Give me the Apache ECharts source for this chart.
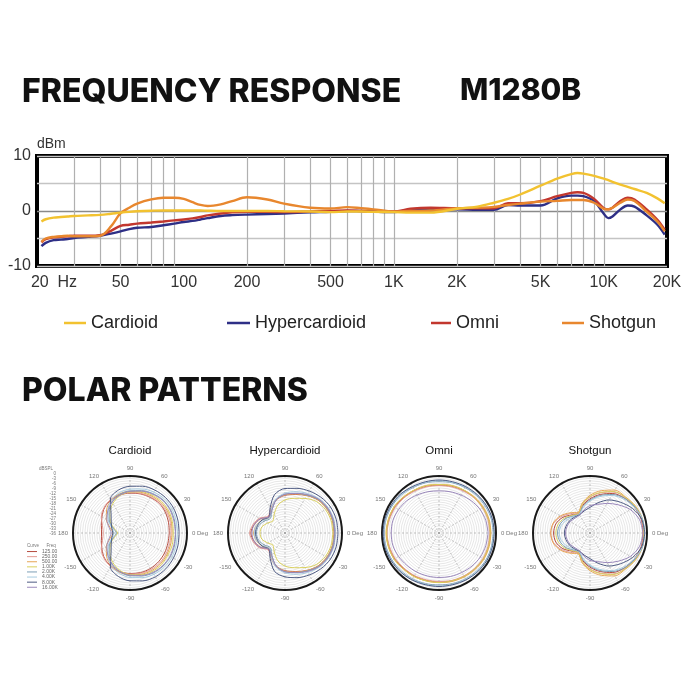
<!DOCTYPE html>
<html><head><meta charset="utf-8">
<script src="https://cdn.jsdelivr.net/npm/echarts@6/dist/echarts.min.js"></script>
<style>html,body{margin:0;padding:0;background:#fff}#c{width:700px;height:700px}</style>
</head><body><div id="c"></div>
<script>
// ---------- Frequency response data ----------
const freqs = [21,22,24,26,28,30,35,40,45,50,55,60,70,80,90,100,110,120,130,150,170,200,250,300,400,500,600,700,800,1000,1200,1500,2000,2500,3000,3500,4000,5000,6000,7000,7500,8000,9000,10000,10500,11000,12000,13000,14000,16000,18000,19500];
const cardioidFR = [-1.9,-1.5,-1.2,-1.1,-1.0,-0.9,-0.8,-0.7,-0.5,-0.3,-0.15,-0.05,0.05,0.1,0.1,0.1,0.1,0.1,0.05,0,0,0,0,-0.05,-0.1,-0.2,-0.1,-0.1,-0.15,-0.2,-0.3,-0.3,0.4,0.8,1.5,2.2,3.0,4.6,5.9,6.7,6.9,6.8,6.4,5.9,5.6,5.3,4.8,4.4,4.0,3.3,2.3,1.4];
const hyperFR = [-6.4,-5.8,-5.3,-5.2,-5.1,-4.9,-4.7,-4.5,-4.1,-3.7,-3.3,-3.05,-2.9,-2.6,-2.3,-2.0,-1.8,-1.55,-1.3,-0.9,-0.75,-0.65,-0.55,-0.45,-0.25,-0.15,0,0,-0.1,-0.2,0.2,0.3,0.3,0.2,0.2,1.1,1.0,1.0,2.3,2.8,2.8,2.7,1.8,-0.5,-1.3,-1.0,0.3,1.0,0.8,-0.8,-2.5,-4.3];
const omniFR = [-5.7,-5.1,-4.8,-4.7,-4.6,-4.5,-4.5,-4.4,-3.6,-2.7,-2.5,-2.3,-2.1,-1.9,-1.7,-1.55,-1.35,-1.1,-0.8,-0.45,-0.25,-0.15,-0.15,-0.2,-0.1,0,0.1,0,-0.1,-0.1,0.4,0.6,0.5,0.5,0.5,1.4,1.4,1.8,2.7,3.3,3.4,3.3,2.2,0.5,0.3,0.6,1.8,2.4,2.1,0.3,-1.6,-3.4];
const shotgunFR = [-5.6,-5.0,-4.7,-4.6,-4.5,-4.6,-4.6,-4.5,-2.8,-0.4,0.6,1.35,2.1,2.4,2.4,2.2,1.6,1.1,0.9,1.2,1.8,2.5,2.1,1.35,0.6,0.45,0.7,0.5,0.3,-0.1,0,0.1,0.5,0.6,0.75,1.1,1.35,1.7,1.85,2.0,2.0,2.0,1.5,0.4,0.3,0.6,1.5,2.1,1.8,-0.1,-1.9,-3.7];
const frNames = ['Cardioid','Hypercardioid','Omni','Shotgun'];
const frColors = ['#f2c230','#2e2f86','#c2372e','#e8872e'];
const xLabelFreqs = [20,50,100,200,500,1000,2000,5000,10000,20000];
const xLabelTexts = ['20  Hz','50','100','200','500','1K','2K','5K','10K','20K'];
const xGridFreqs = [30,40,50,60,70,80,90,200,300,400,500,600,700,800,900,1000,2000,3000,4000,5000,6000,7000,8000,9000,10000];
const yLabelValues = [10,0,-10];

// ---------- Polar pattern data (dBSPL, angles in degrees) ----------
const angles = [0,15,30,45,60,75,90,105,120,135,150,165,180,195,210,225,240,255,270,285,300,315,330,345,360];
const polarFreqs = ['125.00','250.00','500.00','1.00K','2.00K','4.00K','8.00K','16.00K'];
const polarColors = ['#b54a3e','#e39a92','#e6a556','#d9cf5c','#7d9fb6','#a6cbe0','#4d5a82','#9a88bb'];
const dbLabels = ['0','-3','-6','-9','-12','-15','-18','-21','-24','-27','-30','-33','-36'];

const cardioidPolar = [
 [-11.2,-10.8,-10.1,-9.7,-10.1,-10.4,-10.8,-11.2,-11.9,-13.3,-15.5,-17.3,-18.0,-17.3,-15.5,-13.3,-11.9,-10.8,-10.4,-10.1,-10.1,-10.4,-10.8,-11.2,-11.2],
 [-10.1,-9.7,-9.4,-9.4,-9.7,-10.1,-10.4,-10.8,-11.5,-13.0,-15.1,-18.0,-19.1,-18.0,-15.1,-13.0,-11.5,-10.4,-10.1,-9.7,-9.4,-9.4,-9.7,-10.1,-10.1],
 [-9.4,-9.0,-8.6,-8.6,-9.0,-9.4,-9.7,-10.4,-12.2,-15.1,-18.7,-23.0,-25.2,-23.0,-18.7,-15.1,-12.2,-10.4,-9.4,-9.0,-8.6,-8.6,-9.0,-9.4,-9.4],
 [-8.6,-8.3,-7.9,-7.9,-8.3,-9.0,-10.1,-11.5,-14.4,-18.0,-21.6,-25.9,-28.1,-25.9,-21.6,-18.0,-14.4,-11.5,-9.7,-8.6,-7.9,-7.9,-8.3,-8.3,-8.6],
 [-7.2,-6.8,-6.5,-6.5,-7.2,-8.3,-9.4,-10.8,-13.3,-17.3,-20.9,-25.2,-27.4,-25.2,-20.9,-17.3,-13.3,-10.8,-9.0,-7.9,-6.8,-6.5,-6.5,-6.8,-7.2],
 [-6.1,-5.8,-5.4,-5.4,-6.1,-7.2,-8.3,-9.7,-12.2,-16.2,-20.2,-24.1,-25.9,-24.1,-20.2,-16.2,-12.2,-9.7,-7.9,-6.8,-5.8,-5.4,-5.4,-5.8,-6.1],
 [-5.0,-4.7,-4.3,-4.3,-4.7,-5.4,-6.5,-7.9,-11.2,-19.1,-22.3,-24.1,-25.2,-24.1,-22.3,-19.1,-11.2,-7.6,-5.8,-4.7,-4.0,-4.0,-4.3,-4.7,-5.0],
 [-7.2,-7.2,-6.8,-6.8,-7.6,-8.6,-9.7,-11.2,-13.3,-16.2,-19.1,-22.3,-24.1,-22.3,-19.1,-16.2,-13.3,-10.8,-9.4,-8.3,-7.2,-6.8,-6.8,-7.2,-7.2]
];
const hyperPolar = [
 [-5.0,-5.0,-5.4,-6.5,-8.6,-10.8,-12.2,-14.4,-18.7,-21.6,-18.0,-15.8,-14.4,-15.8,-18.0,-21.6,-18.7,-14.4,-12.2,-10.8,-8.6,-6.5,-5.4,-5.0,-5.0],
 [-4.7,-4.7,-5.0,-6.1,-8.3,-10.4,-11.9,-14.0,-18.0,-20.9,-17.3,-15.1,-13.7,-15.1,-17.3,-20.9,-18.0,-14.0,-11.9,-10.4,-8.3,-6.1,-5.0,-4.7,-4.7],
 [-5.0,-5.0,-5.4,-6.5,-8.6,-10.4,-11.9,-14.4,-18.7,-22.3,-19.4,-17.3,-16.2,-17.3,-19.4,-22.3,-18.7,-14.4,-11.9,-10.4,-8.6,-6.5,-5.4,-5.0,-5.0],
 [-5.8,-5.8,-6.5,-7.9,-10.8,-13.3,-15.1,-18.0,-22.3,-25.2,-23.4,-20.9,-20.2,-20.9,-23.4,-25.2,-22.3,-18.0,-15.1,-13.3,-10.8,-7.9,-6.5,-5.8,-5.8],
 [-4.7,-4.7,-5.0,-6.1,-8.3,-10.1,-11.5,-14.4,-19.4,-23.0,-20.9,-18.7,-18.0,-18.7,-20.9,-23.0,-19.4,-14.4,-11.5,-10.1,-8.3,-6.1,-5.0,-4.7,-4.7],
 [-4.0,-4.0,-4.3,-5.4,-7.2,-9.0,-10.8,-13.7,-18.7,-22.3,-19.8,-17.3,-16.6,-17.3,-19.8,-22.3,-18.7,-13.7,-10.8,-9.0,-7.2,-5.4,-4.3,-4.0,-4.0],
 [-2.5,-2.5,-2.9,-4.0,-5.4,-6.8,-7.9,-10.8,-17.3,-21.6,-19.4,-18.0,-17.3,-18.0,-19.4,-21.6,-17.3,-10.8,-8.3,-6.8,-5.4,-4.0,-2.9,-2.5,-2.5],
 [-4.3,-4.3,-4.7,-5.8,-7.9,-10.1,-11.5,-14.4,-19.4,-21.6,-18.0,-15.8,-15.1,-15.8,-18.0,-21.6,-19.4,-14.4,-11.5,-10.1,-7.9,-5.8,-4.7,-4.3,-4.3]
];
const omniPolar = [
 [-3.6,-3.6,-4.0,-4.3,-5.0,-5.4,-5.8,-5.4,-5.0,-4.3,-3.6,-3.2,-2.9,-3.2,-3.6,-4.3,-4.7,-5.0,-5.0,-4.7,-4.3,-4.0,-3.6,-3.6,-3.6],
 [-4.0,-4.0,-4.3,-4.7,-5.4,-5.8,-6.1,-5.8,-5.4,-4.7,-4.0,-3.6,-3.2,-3.6,-4.0,-4.7,-5.0,-5.4,-5.4,-5.0,-4.7,-4.3,-4.0,-4.0,-4.0],
 [-3.2,-3.2,-3.6,-4.0,-4.7,-5.0,-5.4,-5.0,-4.7,-4.0,-3.2,-2.9,-2.5,-2.9,-3.2,-4.0,-4.3,-4.7,-4.7,-4.3,-4.0,-3.6,-3.2,-3.2,-3.2],
 [-3.6,-3.6,-4.0,-4.3,-4.7,-5.0,-5.4,-5.0,-4.7,-4.0,-3.2,-2.9,-2.9,-2.9,-3.2,-4.0,-4.3,-4.7,-4.7,-4.7,-4.3,-4.0,-3.6,-3.6,-3.6],
 [-1.8,-1.8,-2.2,-2.5,-2.9,-3.2,-3.6,-3.2,-2.9,-2.2,-1.8,-1.4,-1.4,-1.4,-1.8,-2.2,-2.5,-2.9,-3.2,-2.9,-2.5,-2.2,-1.8,-1.8,-1.8],
 [-1.4,-1.4,-1.8,-2.2,-2.5,-2.9,-2.9,-2.9,-2.5,-1.8,-1.4,-1.1,-1.1,-1.1,-1.4,-1.8,-2.2,-2.5,-2.5,-2.5,-2.2,-1.8,-1.4,-1.4,-1.4],
 [-1.1,-1.1,-1.4,-1.8,-2.2,-2.5,-2.5,-2.5,-2.2,-1.4,-1.1,-0.7,-0.7,-0.7,-1.1,-1.4,-1.8,-2.2,-2.2,-2.2,-1.8,-1.4,-1.1,-1.1,-1.1],
 [-5.0,-5.4,-6.1,-7.2,-8.3,-9.0,-9.4,-9.0,-8.3,-7.2,-6.5,-5.8,-5.8,-5.8,-6.5,-7.2,-7.6,-7.9,-7.9,-7.6,-7.2,-6.5,-5.8,-5.4,-5.0]
];
const shotgunPolar = [
 [-2.5,-2.5,-3.6,-5.0,-7.2,-10.8,-14.4,-18.0,-21.6,-19.8,-16.2,-13.7,-13.0,-13.7,-16.2,-19.8,-21.6,-18.0,-14.4,-10.8,-7.2,-5.0,-3.6,-2.5,-2.5],
 [-2.2,-2.2,-3.2,-4.3,-6.1,-9.7,-13.3,-17.3,-21.2,-18.7,-15.1,-12.2,-11.2,-12.2,-15.1,-18.7,-21.2,-17.3,-13.3,-9.7,-6.1,-4.3,-3.2,-2.2,-2.2],
 [-1.8,-1.8,-2.5,-4.0,-4.7,-8.3,-12.2,-16.6,-20.9,-18.0,-14.4,-11.9,-11.2,-11.9,-14.4,-18.0,-20.9,-16.6,-12.2,-8.3,-4.7,-4.0,-2.5,-1.8,-1.8],
 [-1.8,-1.8,-2.9,-4.3,-5.8,-9.4,-13.0,-17.3,-21.6,-20.2,-17.3,-15.1,-14.4,-15.1,-17.3,-20.2,-21.6,-17.3,-13.0,-9.4,-5.8,-4.3,-2.9,-1.8,-1.8],
 [-1.4,-1.8,-3.2,-5.0,-7.9,-11.5,-15.1,-18.7,-22.3,-20.9,-18.0,-16.2,-15.5,-16.2,-18.0,-20.9,-22.3,-18.7,-15.1,-11.5,-7.9,-5.0,-3.2,-1.8,-1.4],
 [-1.4,-1.8,-3.6,-5.8,-8.6,-12.2,-15.8,-19.4,-22.3,-21.6,-19.4,-17.3,-16.6,-17.3,-19.4,-21.6,-22.3,-19.4,-15.8,-12.2,-8.6,-5.8,-3.6,-1.8,-1.4],
 [-1.4,-2.2,-5.0,-8.6,-11.9,-16.2,-19.8,-21.6,-22.7,-22.0,-20.9,-20.2,-19.8,-20.2,-20.9,-22.0,-22.7,-21.6,-19.8,-16.2,-11.9,-8.6,-5.0,-2.2,-1.4],
 [-2.5,-3.6,-6.5,-10.8,-14.4,-17.3,-18.7,-20.9,-23.0,-22.7,-21.6,-20.9,-20.5,-20.9,-21.6,-22.7,-23.0,-20.9,-18.7,-17.3,-14.4,-10.8,-6.5,-3.6,-2.5]
];
const polarTitles = ['Cardioid','Hypercardioid','Omni','Shotgun'];
const polarSets = [cardioidPolar, hyperPolar, omniPolar, shotgunPolar];

// ---------- layout ----------
const polarCentersX = [130, 285, 439, 590];
const polarCY = 533, polarR = 57;
const sans = "'Liberation Sans', Arial, sans-serif";
const boldFont = "Inter, 'Open Sans', sans-serif";

const chart = echarts.init(document.getElementById('c'), null, {renderer:'canvas'});

const frData = [cardioidFR, hyperFR, omniFR, shotgunFR];
const series = [];
[1,2,3,0].forEach(k => {
  series.push({
    name: frNames[k], type: 'line', xAxisIndex: 0, yAxisIndex: 0,
    data: freqs.map((f,i) => [Math.log10(f), frData[k][i]]),
    smooth: 0.35, showSymbol: false, symbol: 'none',
    lineStyle: {color: frColors[k], width: 2.4},
    itemStyle: {color: frColors[k]}, z: 3
  });
});

const polars = [], angleAxes = [], radiusAxes = [], titles = [];
polarSets.forEach((set, p) => {
  polars.push({center: [polarCentersX[p], polarCY], radius: polarR});
  angleAxes.push({
    polarIndex: p, type: 'value', min: 0, max: 360, interval: 30,
    startAngle: 0, clockwise: false,
    axisLine: {show: true, lineStyle: {color: '#1a1a1a', width: 2}},
    axisTick: {show: false},
    axisLabel: {show: true, fontSize: 6, color: '#777', margin: 5,
      formatter: v => v === 360 ? '' : (v === 0 ? '0 Deg' : String(v > 180 ? v - 360 : v))},
    splitLine: {show: true, lineStyle: {color: '#9a9a9a', width: 0.6, type: [2, 2]}}
  });
  radiusAxes.push({
    polarIndex: p, type: 'value', min: -36, max: 0, interval: 1.5,
    axisLine: {show: false}, axisTick: {show: false}, axisLabel: {show: false},
    splitLine: {show: true, lineStyle: {color: '#cfcfcf', width: 0.5}}
  });
  titles.push({text: polarTitles[p], left: polarCentersX[p], top: 445, textAlign: 'center', padding: 0,
    textStyle: {fontSize: 11.5, fontWeight: 'normal', color: '#111', fontFamily: sans}});
  set.forEach((vals, k) => {
    series.push({
      name: polarFreqs[k], type: 'line', coordinateSystem: 'polar', polarIndex: p,
      data: angles.map((a, j) => [vals[j], a]),
      smooth: 0.3, showSymbol: false, symbol: 'none',
      lineStyle: {color: polarColors[k], width: 1},
      itemStyle: {color: polarColors[k]}, z: 3
    });
  });
});

titles.push({text: 'FREQUENCY RESPONSE', left: 22, top: 76, padding: 0,
  textStyle: {fontSize: 32, fontWeight: 800, color: '#111', fontFamily: boldFont}});
titles.push({text: 'M1280B', left: 460, top: 76, padding: 0,
  textStyle: {fontSize: 30, fontWeight: 800, color: '#111', fontFamily: boldFont}});
titles.push({text: 'POLAR PATTERNS', left: 22, top: 375, padding: 0,
  textStyle: {fontSize: 32, fontWeight: 800, color: '#111', fontFamily: boldFont}});

const legendLeft = [64, 227, 431, 562];
const legendIconW = [22, 23, 20, 22];
const legends = frNames.map((n, k) => ({
  data: [n], left: legendLeft[k], top: 314, padding: 0, selectedMode: false,
  icon: 'rect', itemWidth: legendIconW[k], itemHeight: 2.5,
  textStyle: {fontSize: 18, color: '#222', fontFamily: sans}
}));
legends.push({
  data: polarFreqs, orient: 'vertical', left: 27, top: 549, padding: 0, itemGap: 0,
  selectedMode: false, icon: 'rect', itemWidth: 10, itemHeight: 1,
  textStyle: {fontSize: 5, color: '#666', lineHeight: 5.1, fontFamily: sans}
});

const graphics = [
  {type: 'text', x: 39, y: 469, style: {text: 'dBSPL', fontSize: 4.5, fill: '#777', align: 'left', verticalAlign: 'middle'}},
  {type: 'text', x: 27, y: 546, style: {text: 'Curve      Freq', fontSize: 4.5, fill: '#777', align: 'left', verticalAlign: 'middle'}}
];
dbLabels.forEach((t, i) => graphics.push({type: 'text', x: 56, y: 474 + i * 4.95,
  style: {text: t, fontSize: 4.5, fill: '#777', align: 'right', verticalAlign: 'middle'}}));

const option = {
  backgroundColor: '#fff',
  animation: false,
  title: titles,
  legend: legends,
  graphic: graphics,
  grid: {left: 37, right: 33, top: 156, bottom: 434, show: true, borderColor: '#000', borderWidth: 4, backgroundColor: 'rgba(0,0,0,0)'},
  xAxis: {
    type: 'value', min: Math.log10(20), max: Math.log10(20000),
    axisLine: {show: false},
    axisTick: {show: false, customValues: xGridFreqs.map(f => Math.log10(f))},
    splitLine: {show: true, lineStyle: {color: '#b0b0b0', width: 1.2}},
    axisLabel: {
      customValues: xLabelFreqs.map(f => Math.log10(f)),
      fontSize: 16, color: '#333', margin: 9, fontFamily: sans,
      formatter: v => {
        let best = 0;
        xLabelFreqs.forEach((f, i) => { if (Math.abs(Math.log10(f) - v) < Math.abs(Math.log10(xLabelFreqs[best]) - v)) best = i; });
        return best === 0 ? '{h|' + xLabelTexts[0] + '}' : xLabelTexts[best];
      },
      rich: {h: {fontSize: 16, color: '#333', fontFamily: sans, padding: [0, 0, 0, 34]}}
    }
  },
  yAxis: {
    type: 'value', min: -10, max: 10, interval: 5,
    name: 'dBm', nameLocation: 'end', nameGap: 5,
    nameTextStyle: {align: 'left', fontSize: 14, color: '#333', fontFamily: sans},
    axisLine: {show: false}, axisTick: {show: false},
    axisLabel: {customValues: yLabelValues, fontSize: 16, color: '#333', margin: 6, fontFamily: sans},
    splitLine: {show: true, lineStyle: {color: ['#c4c4c4', '#c4c4c4', '#8a8a8a', '#c4c4c4', '#c4c4c4'], width: 1.3}}
  },
  polar: polars,
  angleAxis: angleAxes,
  radiusAxis: radiusAxes,
  series: series
};
chart.setOption(option);
</script>
</body></html>
